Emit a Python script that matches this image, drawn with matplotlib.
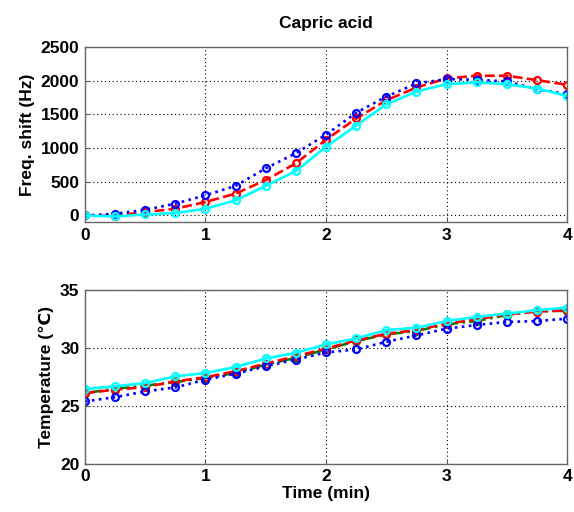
import numpy as np
import matplotlib.pyplot as plt

plt.rcParams['font.family'] = ['Liberation Sans', 'DejaVu Sans']
plt.rcParams['font.weight'] = 'bold'

t = np.arange(17) * 0.25

# frequency shift (Hz)
freq_blue = [0, 25, 85, 175, 300, 440, 700, 925, 1200, 1525, 1765, 1960, 2025, 2015, 1990, 1875, 1800]
freq_red = [0, -5, 50, 100, 200, 325, 525, 775, 1125, 1440, 1710, 1900, 2035, 2075, 2075, 2010, 1940]
freq_cyan = [0, -15, 15, 35, 100, 225, 440, 660, 1020, 1335, 1650, 1840, 1950, 1975, 1950, 1885, 1775]

# temperature (C)
temp_blue = [25.38, 25.75, 26.24, 26.59, 27.25, 27.77, 28.41, 28.99, 29.6, 29.86, 30.52, 31.07, 31.65, 31.97, 32.23, 32.31, 32.51]
temp_red = [26.1, 26.39, 26.62, 27.11, 27.46, 27.98, 28.64, 29.28, 29.93, 30.64, 31.21, 31.53, 32.08, 32.46, 32.89, 33.12, 33.24]
temp_green = [26.1, 26.47, 26.74, 27.05, 27.4, 27.83, 28.55, 29.14, 29.86, 30.58, 31.16, 31.45, 32.02, 32.31, 32.83, 33.18, 33.18]
temp_cyan = [26.47, 26.68, 26.97, 27.54, 27.83, 28.35, 29.08, 29.57, 30.3, 30.81, 31.53, 31.73, 32.31, 32.66, 32.95, 33.24, 33.47]

mk = dict(marker='o', mfc='none', ms=5, mew=1.6, lw=1.9)


def style(ax):
    ax.set_xlim(0, 4)
    ax.set_xticks([0, 1, 2, 3, 4])
    ax.grid(True, color='black', ls=(0, (1, 2.5)), lw=0.8)
    ax.tick_params(direction='in', length=3, labelsize=12.5, color='#555555', pad=4)
    for s in ax.spines.values():
        s.set_color('#666666')
        s.set_linewidth(1.0)
    for lab in ax.get_xticklabels() + ax.get_yticklabels():
        lab.set_fontweight('bold')


fig = plt.figure(figsize=(5.74, 5.12), dpi=100)

ax1 = fig.add_axes([0.148, 0.566, 0.840, 0.342])
ax1.plot(t, freq_red, color='red', ls='--', mec='red', **mk)
ax1.plot(t, freq_blue, color='blue', ls=':', mec='blue', **mk)
ax1.plot(t, freq_cyan, color='cyan', ls='-', mec='cyan', **mk)
ax1.set_ylim(-100, 2500)
ax1.set_yticks([0, 500, 1000, 1500, 2000, 2500])
ax1.set_title('Capric acid', fontsize=12.5, fontweight='bold', pad=14)
ax1.set_ylabel('Freq. shift (Hz)', fontsize=12.5, fontweight='bold', labelpad=4)
style(ax1)

ax2 = fig.add_axes([0.148, 0.094, 0.840, 0.340])
ax2.plot(t, temp_green, color='green', ls='-.', mec='green', **mk)
ax2.plot(t, temp_red, color='red', ls='--', mec='red', **mk)
ax2.plot(t, temp_blue, color='blue', ls=':', mec='blue', **mk)
ax2.plot(t, temp_cyan, color='cyan', ls='-', mec='cyan', **mk)
ax2.set_ylim(20, 35)
ax2.set_yticks([20, 25, 30, 35])
ax2.set_xlabel('Time (min)', fontsize=12.5, fontweight='bold', labelpad=1)
ax2.set_ylabel('Temperature (\u2103)', fontsize=12.5, fontweight='bold', labelpad=4)
style(ax2)

fig.savefig('out.png', dpi=100)
